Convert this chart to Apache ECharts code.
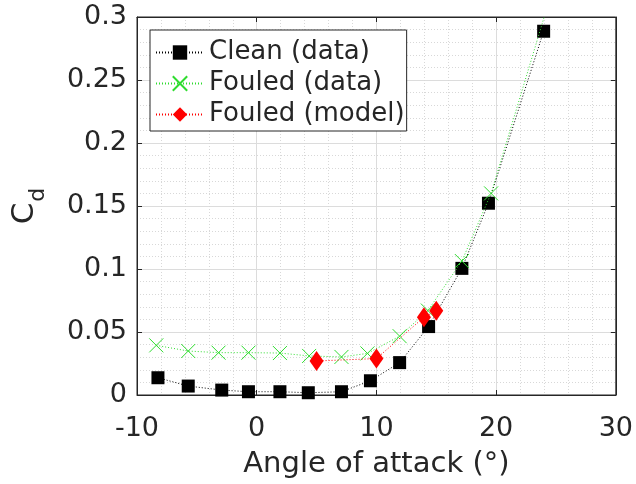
<!DOCTYPE html>
<html>
<head>
<meta charset="utf-8">
<script src="https://cdn.jsdelivr.net/npm/echarts@6/dist/echarts.min.js"></script>
<style>html,body{margin:0;padding:0;background:#fff}#c{width:636px;height:484px}</style>
</head>
<body>
<div id="c"></div>
<script>
// Data
var cleanX = [-8.25, -5.72, -2.92, -0.69, 1.94, 4.31, 7.08, 9.5, 11.94, 14.36, 17.14, 19.36, 23.97];
var cleanY = [0.0137, 0.0071, 0.0039, 0.0026, 0.0026, 0.0018, 0.0026, 0.0113, 0.0257, 0.0543, 0.1005, 0.1522, 0.2887];
var fouledX = [-8.39, -5.72, -3.19, -0.69, 1.94, 4.38, 7.08, 9.25, 11.94, 14.3, 17.14, 19.58, 24.03];
var fouledY = [0.0394, 0.0349, 0.0336, 0.0336, 0.0333, 0.031, 0.0302, 0.033, 0.0467, 0.067, 0.1063, 0.160, 0.3005];
var modelX = [5.0, 10.0, 13.97, 15.0];
var modelY = [0.027, 0.0289, 0.0617, 0.0669];
var xTicks = [-10, 0, 10, 20, 30];
var yTicks = [0, 0.05, 0.1, 0.15, 0.2, 0.25, 0.3];
var seriesNames = ['Clean (data)', 'Fouled (data)', 'Fouled (model)'];

function pairs(xs, ys) { return xs.map(function (x, i) { return [x, ys[i]]; }); }

var txt = '#262626';
var font = 'DejaVu Sans';
var chart = echarts.init(document.getElementById('c'), null, {renderer: 'canvas'});
var crossPath = 'path://M0,0L10,10M10,0L0,10';

chart.setOption({
  animation: false,
  backgroundColor: '#fff',
  textStyle: {fontFamily: font, color: txt},
  grid: {left: 137, right: 19, top: 17, bottom: 86, show: true, borderColor: txt, borderWidth: 1, backgroundColor: '#fff'},
  legend: {
    orient: 'vertical', left: 150, top: 30,
    padding: [8, 2, 2, 5], itemGap: 2,
    itemWidth: 48, itemHeight: 18,
    backgroundColor: '#fff', borderColor: txt, borderWidth: 1, borderRadius: 0,
    textStyle: {fontFamily: font, fontSize: 26, color: txt, lineHeight: 29},
    data: seriesNames
  },
  xAxis: [{
    type: 'value', min: xTicks[0], max: xTicks[xTicks.length - 1], interval: 10,
    name: 'Angle of attack (°)', nameLocation: 'middle', nameGap: 55,
    nameTextStyle: {fontFamily: font, fontSize: 29, color: txt},
    axisLine: {show: true, onZero: false, lineStyle: {color: txt, width: 1}},
    axisTick: {show: true, inside: true, length: 5, lineStyle: {color: txt}},
    axisLabel: {fontFamily: font, fontSize: 27, color: txt, margin: 20},
    splitLine: {show: true, lineStyle: {color: '#dcdcdc', width: 1}},
    minorTick: {show: false, splitNumber: 5},
    minorSplitLine: {show: true, lineStyle: {color: '#d8d8d8', width: 1, type: [1, 2]}}
  }, {
    type: 'value', position: 'top', min: xTicks[0], max: xTicks[xTicks.length - 1], interval: 10,
    axisLine: {show: true, onZero: false, lineStyle: {color: txt}},
    axisTick: {show: true, inside: true, length: 5, lineStyle: {color: txt}},
    axisLabel: {show: false}, splitLine: {show: false}
  }],
  yAxis: [{
    type: 'value', min: yTicks[0], max: yTicks[yTicks.length - 1], interval: 0.05,
    name: '{c|C}{d|d}', nameLocation: 'middle', nameRotate: 90, nameGap: 97,
    nameTextStyle: {
      fontFamily: font, color: txt,
      rich: {
        c: {fontFamily: font, fontSize: 31, color: txt, lineHeight: 31, verticalAlign: 'top'},
        d: {fontFamily: font, fontSize: 22, color: txt, lineHeight: 22, verticalAlign: 'top', padding: [18, 0, 0, 1]}
      }
    },
    axisLine: {show: true, onZero: false, lineStyle: {color: txt, width: 1}},
    axisTick: {show: true, inside: true, length: 5, lineStyle: {color: txt}},
    axisLabel: {fontFamily: font, fontSize: 27, color: txt, margin: 10,
      formatter: function (v) { return String(Math.round(v * 100) / 100); }},
    splitLine: {show: true, lineStyle: {color: '#dcdcdc', width: 1}},
    minorTick: {show: false, splitNumber: 5},
    minorSplitLine: {show: true, lineStyle: {color: '#d8d8d8', width: 1, type: [1, 2]}}
  }, {
    type: 'value', position: 'right', min: yTicks[0], max: yTicks[yTicks.length - 1], interval: 0.05,
    axisLine: {show: true, onZero: false, lineStyle: {color: txt}},
    axisTick: {show: true, inside: true, length: 5, lineStyle: {color: txt}},
    axisLabel: {show: false}, splitLine: {show: false}
  }],
  series: [{
    name: seriesNames[0], type: 'line', data: pairs(cleanX, cleanY),
    symbol: 'rect', symbolSize: 13, z: 3,
    itemStyle: {color: '#000'},
    lineStyle: {color: '#000', width: 1, type: [1, 2]}
  }, {
    name: seriesNames[1], type: 'line', data: pairs(fouledX, fouledY),
    symbol: crossPath, symbolSize: 14, z: 4,
    itemStyle: {color: 'none', borderColor: '#2fdc2f', borderWidth: 1},
    lineStyle: {color: '#2fdc2f', width: 1, type: [1, 2]}
  }, {
    name: seriesNames[2], type: 'line', data: pairs(modelX, modelY),
    symbol: 'diamond', symbolSize: [14, 20], z: 5,
    itemStyle: {color: '#ff0000'},
    lineStyle: {color: '#ff0000', width: 1, type: [1, 2]}
  }]
});
</script>
</body>
</html>
